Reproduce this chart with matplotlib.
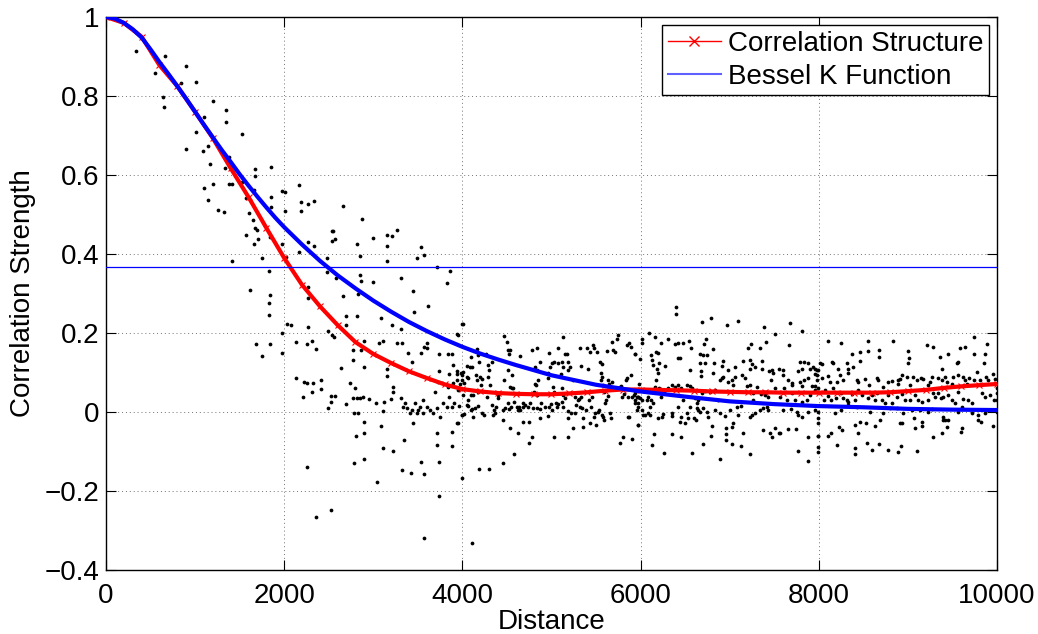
import matplotlib
matplotlib.use('Agg')
import matplotlib.pyplot as plt
from matplotlib.lines import Line2D

plt.rcParams['font.family'] = ['Liberation Sans', 'DejaVu Sans']

# fitted correlation structure (red, markers every 200)
corr_x = list(range(0, 10001, 200))
corr_y = [1.0, 0.985, 0.95, 0.878, 0.825, 0.76, 0.693, 0.617, 0.544, 0.466,
          0.39, 0.322, 0.268, 0.22, 0.177, 0.147, 0.124, 0.103, 0.086, 0.07,
          0.058, 0.052, 0.048, 0.046, 0.045, 0.045, 0.047, 0.05, 0.054, 0.057,
          0.057, 0.056, 0.055, 0.054, 0.052, 0.051, 0.05, 0.05, 0.049, 0.049,
          0.049, 0.049, 0.049, 0.049, 0.05, 0.053, 0.056, 0.061, 0.065, 0.068,
          0.071]

# bessel K fit (blue)
bessel_x = [0, 100, 200, 300, 400, 500, 600, 700, 800, 900, 1000, 1100, 1200,
            1300, 1400, 1500, 1600, 1700, 1800, 1900, 2000, 2200, 2400, 2600,
            2800, 3000, 3200, 3400, 3600, 3800, 4000, 4200, 4400, 4600, 4800,
            5000, 5500, 6000, 6500, 7000, 7500, 8000, 8500, 9000, 9500, 10000]
bessel_y = [1.0, 0.996, 0.985, 0.969, 0.948, 0.918, 0.886, 0.856, 0.825, 0.793,
            0.76, 0.727, 0.695, 0.663, 0.633, 0.602, 0.573, 0.545, 0.518, 0.492,
            0.468, 0.424, 0.383, 0.346, 0.313, 0.282, 0.254, 0.228, 0.205, 0.184,
            0.165, 0.148, 0.133, 0.119, 0.106, 0.093, 0.069, 0.052, 0.039, 0.027,
            0.02, 0.015, 0.012, 0.008, 0.006, 0.005]

threshold = 0.3679

pts_near = [
    (333, 0.961), (333, 0.915), (550, 0.859), (657, 0.90), (643, 0.87), (636, 0.797),
    (655, 0.772), (838, 0.832), (898, 0.877), (1007, 0.835), (898, 0.666), (1007, 0.71),
    (1103, 0.748), (1197, 0.787), (1092, 0.66), (1141, 0.673), (1167, 0.627), (1343, 0.765),
    (1343, 0.733), (1523, 0.705), (1103, 0.568), (1141, 0.537), (1197, 0.577), (1253, 0.512),
    (1328, 0.507), (1380, 0.645), (1335, 0.617), (1380, 0.576), (1410, 0.576), (1523, 0.583),
    (1672, 0.614), (1672, 0.597), (1852, 0.621), (1665, 0.563), (1852, 0.544), (1852, 0.52),
    (1568, 0.543), (1609, 0.503), (1654, 0.486), (1571, 0.448), (1661, 0.425), (1672, 0.465),
    (1694, 0.46), (1702, 0.439), (1747, 0.389), (1841, 0.442), (1418, 0.382), (1972, 0.559),
    (2009, 0.558), (2009, 0.508), (1972, 0.425), (2166, 0.575), (2188, 0.531), (2188, 0.51),
    (2264, 0.527), (2338, 0.534), (2166, 0.404), (2271, 0.431), (2338, 0.42), (2477, 0.391),
    (2664, 0.522), (2536, 0.459), (2547, 0.459), (2570, 0.437), (2536, 0.434), (2870, 0.488),
    (2813, 0.425), (2851, 0.396), (2993, 0.441), (3158, 0.448), (3206, 0.446), (3150, 0.421),
    (3262, 0.461), (3158, 0.382), (3487, 0.391), (3535, 0.419), (3569, 0.397), (3718, 0.368),
    (3823, 0.326), (3442, 0.307), (3311, 0.338), (2851, 0.347), (2862, 0.332), (2993, 0.33),
    (2832, 0.298), (2664, 0.294), (2578, 0.338), (2477, 0.355), (2017, 0.393), (1833, 0.358),
    (1841, 0.296), (1616, 0.309), (2271, 0.317),
]

pts_mid = [
    (1833, 0.275), (1833, 0.246), (1683, 0.172), (1747, 0.143), (1841, 0.171), (1978, 0.201),
    (1978, 0.15), (2028, 0.223), (2076, 0.22), (2132, 0.178), (2252, 0.171), (2308, 0.18),
    (2357, 0.159), (2271, 0.214), (2271, 0.289), (2813, 0.244), (3086, 0.237), (3206, 0.22),
    (3307, 0.21), (3457, 0.252), (3617, 0.269), (3861, 0.358), (4003, 0.223), (3936, 0.197),
    (2690, 0.243), (2495, 0.206), (2533, 0.195), (2562, 0.189), (2637, 0.111), (2693, 0.22),
    (2769, 0.132), (2769, 0.157), (2862, 0.157), (2899, 0.181), (2896, 0.114), (3064, 0.174),
    (3112, 0.181), (3150, 0.109), (3158, 0.092), (3270, 0.175), (3318, 0.175), (3386, 0.149),
    (3438, 0.127), (3535, 0.15), (3573, 0.165), (3599, 0.163), (3606, 0.175), (3741, 0.147),
    (3737, 0.105), (3842, 0.147), (3880, 0.147), (3891, 0.119), (3853, 0.096), (3936, 0.104),
    (3992, 0.094), (4048, 0.089), (4048, 0.117), (4085, 0.115), (2132, 0.087), (2226, 0.075),
    (2252, 0.073), (2215, 0.037), (2327, 0.073), (2315, 0.051), (2413, 0.081), (2413, 0.058),
    (2522, 0.04), (2570, 0.041), (2495, 0.011), (2522, 0.026), (2693, 0.02), (2738, 0.073),
    (2775, 0.035), (2813, 0.036), (2851, 0.035), (2888, 0.039), (2795, 0.06), (2787, -0.003),
    (2829, -0.003), (2955, 0.032), (3030, 0.024), (3112, 0.003), (3120, 0.026), (3198, 0.032),
    (3217, 0.05), (3224, 0.064), (3311, 0.035), (3330, 0.013), (3356, 0.022), (3375, 0.009),
    (3412, -0.003), (3431, 0.005), (3449, -0.029), (3468, 0.022), (3487, -0.003), (3505, 0.005),
    (3524, 0.013), (3554, 0.03), (3561, -0.003), (3599, 0.013), (3636, 0.005), (3673, -0.003),
    (3711, 0.009), (3748, -0.012), (3786, 0.022), (3823, 0.013), (3853, 0.039), (3880, 0.013),
    (3906, 0.022), (3943, -0.027), (3992, -0.008), (4048, 0.018), (4096, 0.005), (4122, -0.012),
    (3730, 0.077), (3835, 0.063), (3891, 0.073), (3943, 0.081), (4011, 0.102), (4066, 0.087),
    (3692, 0.051), (2252, -0.138), (2357, -0.265), (2522, -0.248), (2783, -0.13), (2896, -0.119),
    (2802, -0.061), (2899, -0.052), (2899, -0.026), (3038, -0.178), (3086, -0.035), (3112, -0.092),
    (3224, -0.098), (3326, -0.147), (3344, -0.071), (3423, -0.154), (3535, -0.126), (3569, -0.158),
    (3737, -0.212), (3741, -0.126), (3718, -0.084), (3718, -0.052), (3880, -0.085), (3880, -0.05),
    (3569, -0.318), (4104, -0.332),
]

pts_4k_6k = [
    (3999, 0.223), (3947, 0.195), (3936, 0.096), (3984, 0.098), (3999, 0.081), (3969, 0.072),
    (3947, 0.057), (4022, 0.074), (4011, 0.043), (4067, 0.03), (3962, 0.015), (3999, -0.008),
    (4022, -0.005), (3947, -0.027), (3999, -0.168), (4097, 0.14), (4104, 0.115), (4097, 0.043),
    (4123, 0.043), (4160, 0.159), (4171, 0.144), (4186, 0.127), (4149, 0.094), (4160, 0.081),
    (4198, 0.089), (4216, 0.083), (4209, 0.068), (4179, 0.051), (4171, 0.015), (4216, -0.003),
    (4246, -0.008), (4141, 0.009), (4112, 0.007), (4067, 0.015), (4261, 0.146), (4291, 0.119),
    (4298, 0.106), (4284, 0.088), (4328, 0.127), (4310, 0.068), (4272, 0.039), (4336, 0.018),
    (4358, 0.005), (4347, -0.008), (4373, 0.013), (4366, -0.003), (4396, 0.035), (4403, 0.043),
    (4471, 0.192), (4497, 0.178), (4508, 0.157), (4523, 0.148), (4534, 0.157), (4471, 0.081),
    (4516, 0.106), (4553, 0.094), (4534, 0.064), (4553, 0.06), (4572, 0.06), (4459, 0.005),
    (4478, 0.009), (4508, 0.022), (4523, 0.007), (4545, 0.013), (4583, 0.026), (4609, 0.013),
    (4459, -0.02), (4534, -0.041), (4620, -0.052), (4583, -0.106), (4459, -0.128), (4186, -0.145),
    (4298, -0.144), (4646, 0.142), (4635, 0.013), (4684, 0.024), (4684, 0.012), (4703, 0.018),
    (4733, 0.012), (4759, 0.022), (4684, -0.025), (4747, -0.025), (4785, -0.063), (4747, -0.078),
    (4628, 0.005), (4646, 0.005), (4785, 0.157), (4834, 0.161), (4815, 0.115), (4834, 0.106),
    (4815, 0.072), (4822, 0.068), (4807, 0.051), (4871, 0.127), (4852, 0.081), (4834, 0.043),
    (4796, 0.009), (4834, 0.009), (4871, 0.007), (4882, 0.022), (4927, 0.012), (4871, -0.014),
    (4972, 0.15), (4957, 0.098), (4983, 0.115), (5009, 0.125), (5024, 0.127), (4964, 0.085),
    (5020, 0.064), (5032, 0.051), (4972, 0.013), (4994, 0.02), (5002, 0.005), (5047, 0.022),
    (5058, 0.012), (4957, -0.01), (5032, -0.063), (5077, 0.161), (5069, 0.123), (5121, 0.127),
    (5106, 0.096), (5133, 0.191), (5151, 0.148), (5170, 0.147), (5181, 0.127), (5133, 0.115),
    (5114, 0.06), (5151, 0.035), (5189, 0.106), (5207, 0.115), (5077, 0.02), (5121, 0.026),
    (5133, 0.012), (5181, 0.003), (5189, -0.016), (5219, -0.003), (5189, -0.063), (5133, 0.043),
    (5245, 0.081), (5264, 0.039), (5271, 0.018), (5264, -0.003), (5245, -0.041), (5301, 0.03),
    (5320, 0.161), (5331, 0.116), (5309, 0.032), (5320, 0.012), (5331, 0.039), (5346, 0.009),
    (5357, -0.039), (5357, -0.016), (5395, 0.161), (5383, 0.005), (5413, 0.11), (5421, 0.03),
    (5432, 0.153), (5443, 0.013), (5432, -0.029), (5469, 0.17), (5481, 0.161), (5458, 0.039),
    (5481, -0.012), (5488, -0.003), (5507, 0.153), (5518, 0.001), (5495, -0.033), (5544, 0.127),
    (5563, 0.121), (5555, 0.098), (5570, 0.089), (5555, 0.081), (5582, 0.068), (5593, 0.051),
    (5608, 0.03), (5600, 0.022), (5563, -0.008), (5533, 0.005), (5582, -0.012), (5593, -0.02),
    (5630, 0.081), (5645, 0.072), (5637, 0.04), (5656, -0.003), (5675, 0.077), (5667, -0.016),
    (5619, 0.155), (5694, 0.157), (5675, 0.178), (5712, 0.153), (5731, 0.186), (5750, 0.195),
    (5768, -0.079), (5768, 0.064), (5780, 0.066), (5787, 0.039), (5806, -0.064), (5832, 0.081),
    (5817, 0.045), (5843, 0.085), (5862, 0.039), (5854, -0.012), (5869, -0.012), (5843, 0.17),
    (5869, 0.174), (5892, 0.094), (5900, 0.039), (5930, 0.043), (5937, 0.03), (5956, 0.039),
    (5967, 0.039), (5907, -0.069), (5937, 0.148), (5967, -0.033), (5892, 0.165), (5975, 0.022),
    (5982, 0.071),
]

pts_6k_8k = [
    (6393, 0.265), (6393, 0.248), (6685, 0.229), (6790, 0.237), (6966, 0.22), (7089, 0.231),
    (7388, 0.216), (7677, 0.226), (7807, 0.206), (7508, 0.197), (6094, 0.201), (6161, 0.189),
    (6019, 0.184), (6012, 0.175), (6229, 0.175), (6304, 0.184), (6386, 0.172), (6423, 0.174),
    (6479, 0.175), (6543, 0.181), (6730, 0.186), (6715, 0.172), (6816, 0.159), (6565, 0.161),
    (6416, 0.138), (6442, 0.136), (6117, 0.144), (6169, 0.153), (6199, 0.15), (6124, 0.132),
    (6143, 0.119), (6206, 0.123), (6180, 0.11), (6191, 0.1), (6274, 0.116), (6554, 0.106),
    (6666, 0.147), (6704, 0.144), (6741, 0.144), (6666, 0.125), (6723, 0.125), (6827, 0.123),
    (6678, 0.105), (6678, 0.091), (6816, 0.098), (6928, 0.13), (6917, 0.116), (6984, 0.106),
    (7059, 0.115), (7153, 0.13), (7201, 0.161), (7239, 0.172), (7227, 0.132), (7246, 0.121),
    (7227, 0.11), (7283, 0.115), (7339, 0.161), (7366, 0.13), (7403, 0.178), (7366, 0.11),
    (7441, 0.105), (7471, 0.106), (7489, 0.1), (7553, 0.108), (7463, 0.081), (7602, 0.106),
    (7665, 0.17), (7602, 0.094), (7658, 0.081), (7695, 0.074), (7695, 0.068), (7789, 0.127),
    (7837, 0.127), (7882, 0.123), (7901, 0.11), (7770, 0.105), (7807, 0.11), (7938, 0.115),
    (7976, 0.106), (7976, 0.094), (7882, 0.085), (7837, 0.081), (7789, 0.077), (7807, 0.066),
    (7919, 0.066), (5993, 0.133), (5937, 0.148),
    (5937, 0.047), (5967, 0.039), (5993, 0.035), (6019, 0.03), (6079, 0.039), (6117, 0.03),
    (6161, 0.064), (6169, 0.081), (6206, 0.06), (6229, 0.039), (6266, 0.051), (6311, 0.06),
    (6348, 0.068), (6386, 0.064), (6423, 0.068), (6453, 0.06), (6479, 0.03), (6517, 0.068),
    (6554, 0.066), (6580, 0.06), (6610, 0.035), (6640, 0.03), (6629, 0.022), (6685, 0.049),
    (6723, 0.054), (6779, 0.051), (6835, 0.056), (6891, 0.081), (6910, 0.085), (6928, 0.088),
    (6977, 0.077), (7022, 0.081), (7040, 0.068), (7059, 0.088), (7134, 0.094), (7171, 0.085),
    (7190, 0.066), (7227, 0.068), (7265, 0.047), (7265, 0.03), (7302, 0.064), (7351, 0.045),
    (7396, 0.043), (7433, 0.039), (7508, 0.06), (7564, 0.039), (7613, 0.06), (7639, 0.03),
    (7695, 0.047), (7733, 0.03), (7807, 0.026), (7863, 0.03), (7901, 0.043), (7957, 0.056),
    (7987, 0.051),
    (5937, 0.022), (5956, 0.005), (5974, 0.013), (6012, 0.005), (6031, -0.008), (6049, -0.008),
    (6087, -0.002), (6105, -0.008), (6143, 0.022), (6191, -0.016), (6236, -0.012), (6255, -0.005),
    (6105, 0.013), (6068, 0.03), (6348, -0.003), (6356, -0.01), (6423, 0.013), (6442, -0.025),
    (6453, -0.012), (6498, -0.027), (6517, -0.003), (6535, -0.016), (6554, 0.013), (6603, -0.016),
    (6618, -0.019), (6629, 0.009), (6648, 0.005), (6666, 0.001), (6704, 0.009), (6741, 0.001),
    (6753, -0.012), (6797, -0.036), (6835, 0.005), (6865, 0.03), (6891, -0.003), (6947, -0.01),
    (6954, -0.041), (6954, -0.056), (7003, 0.005), (7022, -0.037), (7040, -0.027), (7078, 0.012),
    (7097, -0.008), (7127, 0.015), (7153, -0.054), (7227, -0.012), (7246, -0.008), (7283, -0.003),
    (7339, 0.005), (7377, 0.009), (7415, 0.013), (7433, 0.005), (7377, -0.046), (7452, -0.054),
    (7478, -0.064), (7508, -0.041), (7553, -0.054), (7564, -0.052), (7602, 0.005), (7650, -0.044),
    (7687, 0.007), (7751, 0.001), (7740, -0.044), (7763, -0.008), (7807, -0.012), (7882, 0.001),
    (7882, -0.063), (7987, 0.001), (7987, -0.061), (7987, -0.029),
    (5967, -0.033), (6154, -0.056), (6124, -0.084), (6348, -0.056), (6453, -0.064), (6266, -0.103),
    (6573, -0.103), (6704, -0.081), (6790, -0.061), (6891, -0.12), (6954, -0.071), (7029, -0.081),
    (7127, -0.086), (7227, -0.106), (7763, -0.098), (7882, -0.125), (7987, -0.088),
]

pts_8k_10k = [
    (8107, 0.181), (8249, 0.174), (8548, 0.181), (8836, 0.181), (8376, 0.147), (8462, 0.153),
    (8555, 0.155), (8675, 0.157), (8675, 0.14), (8997, 0.155), (9012, 0.138), (9210, 0.17),
    (9285, 0.164), (9446, 0.148), (9360, 0.14), (9584, 0.161), (9640, 0.164), (9745, 0.189),
    (9745, 0.148), (9865, 0.147), (9884, 0.171), (9857, 0.123), (9547, 0.123), (9565, 0.127),
    (9379, 0.108), (9004, 0.125), (8462, 0.13), (8312, 0.125), (8144, 0.127), (8163, 0.123),
    (8013, 0.123), (8039, 0.121), (7994, 0.106), (7957, 0.11), (8219, 0.11), (8331, 0.11),
    (8387, 0.113), (8331, 0.098), (8107, 0.091), (8238, 0.094), (8275, 0.081), (8200, 0.077),
    (8125, 0.077), (8032, 0.085), (7976, 0.081), (7957, 0.096), (8425, 0.081), (8443, 0.077),
    (8518, 0.083), (8563, 0.068), (8649, 0.085), (8668, 0.081), (8724, 0.064), (8780, 0.077),
    (8817, 0.079), (8892, 0.081), (8911, 0.083), (8892, 0.072), (8986, 0.089), (8937, 0.094),
    (9061, 0.089), (9098, 0.081), (9147, 0.085), (9173, 0.083), (9023, 0.068), (9248, 0.077),
    (9229, 0.068), (9266, 0.089), (9334, 0.085), (9379, 0.081), (9416, 0.089), (9435, 0.077),
    (9491, 0.072), (9510, 0.089), (9565, 0.094), (9622, 0.089), (9640, 0.081), (9659, 0.072),
    (9685, 0.085), (9745, 0.081), (9771, 0.102), (9809, 0.081), (9872, 0.089), (9902, 0.081),
    (9958, 0.096), (9977, 0.083), (9996, 0.062),
    (7957, 0.066), (7994, 0.06), (8069, 0.056), (8107, 0.04), (8163, 0.062), (8189, 0.035),
    (8249, 0.047), (8275, 0.035), (8312, 0.03), (8331, 0.026), (8368, 0.045), (8443, 0.056),
    (8406, 0.03), (8481, 0.043), (8555, 0.035), (8600, 0.043), (8649, 0.047), (8705, 0.03),
    (8742, 0.022), (8780, 0.043), (8817, 0.022), (8873, 0.039), (8929, 0.045), (8967, 0.03),
    (9023, 0.03), (9079, 0.043), (9117, 0.03), (9154, 0.026), (9229, 0.03), (9285, 0.047),
    (9304, 0.039), (9334, 0.047), (9371, 0.035), (9397, 0.039), (9453, 0.043), (9491, 0.03),
    (9528, 0.022), (9565, 0.051), (9622, 0.032), (9670, 0.03), (9715, 0.022), (9827, 0.047),
    (9865, 0.039), (9921, 0.043), (9970, 0.03), (9996, 0.047),
    (7957, 0.005), (7994, -0.016), (8062, 0.03), (8137, 0.03), (8181, -0.003), (8249, 0.005),
    (8331, 0.018), (8425, 0.013), (8574, 0.001), (8630, 0.03), (8724, -0.003), (8799, 0.009),
    (8873, 0.009), (8948, -0.003), (9042, 0.005), (9135, 0.005), (9229, 0.001), (9266, 0.007),
    (9397, -0.012), (9416, -0.02), (9453, -0.019), (9565, 0.001), (9603, 0.013), (9715, -0.003),
    (9790, -0.008), (9865, -0.003), (9910, 0.005), (9996, 0.001), (9996, 0.03),
    (7994, -0.061), (7987, -0.1), (8107, -0.061), (8137, -0.054), (8200, -0.084), (8226, -0.039),
    (8256, -0.046), (8406, -0.033), (8406, -0.09), (8406, -0.106), (8462, -0.025), (8443, -0.054),
    (8526, -0.027), (8537, -0.079), (8600, -0.095), (8630, -0.036), (8675, -0.081), (8686, -0.02),
    (8772, -0.096), (8892, -0.1), (8911, -0.029), (8929, -0.027), (8922, -0.086), (9072, -0.016),
    (9079, -0.041), (9098, -0.098), (9154, -0.025), (9162, -0.036), (9285, -0.064), (9379, -0.052),
    (9435, -0.037), (9397, -0.02), (9603, -0.041), (9595, -0.05), (9790, -0.02), (9820, -0.025),
    (9958, -0.036),
]

x_ticks = [0, 2000, 4000, 6000, 8000, 10000]
y_ticks = [-0.4, -0.2, 0, 0.2, 0.4, 0.6, 0.8, 1]
y_tick_labels = ['\u22120.4', '\u22120.2', '0', '0.2', '0.4', '0.6', '0.8', '1']

fig = plt.figure(figsize=(10.38, 6.34), dpi=100)
ax = fig.add_axes([0.1021, 0.1009, 0.8584, 0.8723])

all_pts = pts_near + pts_mid + pts_4k_6k + pts_6k_8k + pts_8k_10k
sx = [p[0] for p in all_pts]
sy = [p[1] for p in all_pts]
ax.plot(sx, sy, 'o', color='k', ms=2.7, mew=0, zorder=2)

ax.plot(corr_x, corr_y, '-', color='r', lw=3, zorder=3, solid_joinstyle='round')
ax.plot(corr_x, corr_y, 'x', color='r', ms=5, mew=0.8, zorder=3)
ax.plot(bessel_x, bessel_y, '-', color='b', lw=3, zorder=4, solid_joinstyle='round')
ax.axhline(threshold, color='b', lw=0.9, zorder=4)

ax.set_xlim(0, 10000)
ax.set_ylim(-0.4, 1)
ax.set_xticks(x_ticks)
ax.set_xticklabels([str(t) for t in x_ticks])
ax.set_yticks(y_ticks)
ax.set_yticklabels(y_tick_labels)
ax.tick_params(direction='in', top=True, right=True, length=7, width=0.8, labelsize=20)
ax.tick_params(axis='x', pad=9)
ax.tick_params(axis='y', pad=5)
ax.grid(True, color='0.45', linestyle=(0, (1, 3)), lw=0.7)
ax.set_axisbelow(True)
for s in ax.spines.values():
    s.set_linewidth(1)

ax.set_xlabel('Distance', fontsize=20, labelpad=0)
ax.set_ylabel('Correlation Strength', fontsize=20, labelpad=6)

handles = [Line2D([], [], color='r', lw=1, marker='x', ms=7, mew=1),
           Line2D([], [], color='#6060ff', lw=1.5)]
leg = ax.legend(handles, ['Correlation Structure', 'Bessel K Function'],
                loc='upper right', fontsize=20, fancybox=False, framealpha=1,
                edgecolor='k', borderaxespad=0.3, handlelength=1.9,
                handletextpad=0.25, labelspacing=0.25, borderpad=0.2)
leg.get_frame().set_linewidth(1)

fig.savefig('out.png', dpi=100)
